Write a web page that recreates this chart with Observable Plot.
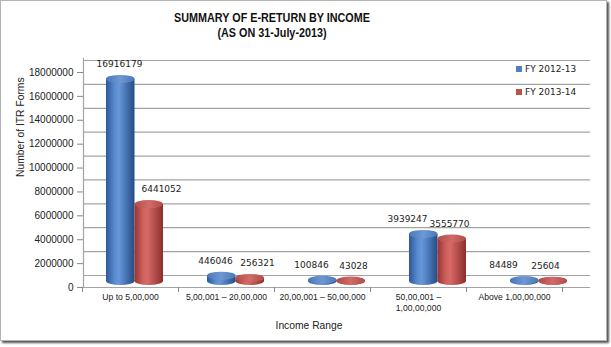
<!DOCTYPE html>
<html>
<head>
<meta charset="utf-8">
<script src="https://cdn.jsdelivr.net/npm/d3@7"></script>
<script src="https://cdn.jsdelivr.net/npm/@observablehq/plot@0.6"></script>
<style>
  html, body { margin: 0; padding: 0; background: #fff; }
  #wrap { position: relative; width: 611px; height: 347px; overflow: hidden; background: #fff; }
  #border { position: absolute; left: 0; top: 0; width: 605px; height: 339px; border: 1px solid #b4b4b4; box-shadow: 2px 2px 2px #555; }
  #title { position: absolute; left: 0; top: 10px; width: 544px; text-align: center; font-family: "Liberation Sans", Arial, sans-serif; font-weight: bold; font-size: 13px; line-height: 15px; color: #111; transform: scaleX(0.83); transform-origin: 272px 0; }
  .layer { position: absolute; left: 0; top: 50px; }
  .leg { position: absolute; font-family: "DejaVu Sans", sans-serif; font-size: 9px; color: #222; line-height: 10px; }
  .leg span { display: inline-block; width: 6px; height: 6px; margin-right: 3px; vertical-align: 0px; }
</style>
</head>
<body>
<svg width="0" height="0" style="position:absolute">
  <defs>
    <linearGradient id="gBlue" x1="0" x2="1" y1="0" y2="0">
      <stop offset="0" stop-color="#2c5896"/>
      <stop offset="0.3" stop-color="#5a8bd0"/>
      <stop offset="0.45" stop-color="#6797da"/>
      <stop offset="1" stop-color="#254c86"/>
    </linearGradient>
    <linearGradient id="gBlueCap" x1="0" x2="1" y1="0" y2="0">
      <stop offset="0" stop-color="#4a78b8"/>
      <stop offset="0.5" stop-color="#6f98d3"/>
      <stop offset="1" stop-color="#4a78b8"/>
    </linearGradient>
    <linearGradient id="gRed" x1="0" x2="1" y1="0" y2="0">
      <stop offset="0" stop-color="#963532"/>
      <stop offset="0.3" stop-color="#d0605d"/>
      <stop offset="0.45" stop-color="#d76966"/>
      <stop offset="1" stop-color="#8b2f2c"/>
    </linearGradient>
    <linearGradient id="gRedCap" x1="0" x2="1" y1="0" y2="0">
      <stop offset="0" stop-color="#b44c49"/>
      <stop offset="0.5" stop-color="#cf6b68"/>
      <stop offset="1" stop-color="#b44c49"/>
    </linearGradient>
  </defs>
</svg>
<div id="wrap">
  <div id="border"></div>
  <div id="title">SUMMARY OF E-RETURN BY INCOME<br>(AS ON 31-July-2013)</div>
  <div id="axes" class="layer"></div>
  <div id="bars" class="layer"></div>
  <div id="labels" class="layer"></div>
  <div class="leg" style="left:516px; top:64px;"><span style="background:#4f81bd"></span>FY 2012-13</div>
  <div class="leg" style="left:516px; top:87px;"><span style="background:#c0504d"></span>FY 2013-14</div>
</div>
<script>
const categories = ["Up to 5,00,000", "5,00,001 – 20,00,000", "20,00,001 – 50,00,000", "50,00,001 –\n1,00,00,000", "Above 1,00,00,000"];
const fy1213 = [16916179, 446046, 100846, 3939247, 84489];
const fy1314 = [6441052, 256321, 43028, 3555770, 25604];
const yTicks = [0, 2000000, 4000000, 6000000, 8000000, 10000000, 12000000, 14000000, 16000000, 18000000];
const seriesNames = ["FY 2012-13", "FY 2013-14"];
const yTitle = "Number of ITR Forms";
const xTitle = "Income Range";

const s1 = categories.map((c, i) => ({cat: c, v: fy1213[i], s: seriesNames[0]}));
const s2 = categories.map((c, i) => ({cat: c, v: fy1314[i], s: seriesNames[1]}));

const W = 611, H = 297;
const yScale = {domain: [0, 18000000], range: [237, 22]};
const font = {fontFamily: "'Liberation Sans', Arial, sans-serif", fontSize: "10px", color: "#222", background: "transparent", overflow: "visible"};
const gridColor = "#a3a3a3";
const frontX = {type: "band", domain: categories, range: [82, 562], padding: 0};

const axes = Plot.plot({
  width: W, height: H,
  marginLeft: 83, marginRight: 21, marginTop: 8, marginBottom: 60,
  x: frontX,
  y: yScale,
  style: font,
  marks: [
    Plot.ruleY(yTicks, {dy: -12, stroke: gridColor, strokeWidth: 1.2}),
    Plot.ruleY([0], {stroke: gridColor, strokeWidth: 1.2}),
    Plot.frame({anchor: "left", stroke: gridColor, strokeWidth: 1.2}),
    Plot.axisY(yTicks, {tickSize: 6, tickPadding: 4, tickFormat: d3.format("d"), stroke: "#888", fontSize: 10, label: null}),
    Plot.axisX({tickSize: 0, tickPadding: 5, fontSize: 8.6, label: null, lineHeight: 1.25}),
    Plot.ruleX(categories, {x: d => d, dx: -48, y1: () => 0, y2: () => 0, insetBottom: -5, stroke: "#888"}),
    Plot.ruleX([categories[categories.length - 1]], {x: d => d, dx: 48, y1: () => 0, y2: () => 0, insetBottom: -5, stroke: "#888"}),
    Plot.text([yTitle], {frameAnchor: "left", rotate: -90, dx: -63, dy: 4, fontSize: 10.3, fill: "#222"}),
    Plot.text([xTitle], {frameAnchor: "bottom", dx: -28, dy: 41, fontSize: 10.3, fill: "#222"})
  ]
});
document.getElementById("axes").appendChild(axes);

const barOpts = (fill, left, right) => ({x: "cat", insetLeft: left, insetRight: right, dy: -6, fill});
const bars = Plot.plot({
  width: W, height: H,
  marginLeft: 84, marginRight: 22, marginTop: 8, marginBottom: 60,
  x: {type: "band", domain: categories, range: [84, 589], padding: 0, axis: null},
  y: {...yScale, axis: null},
  style: font,
  marks: [
    Plot.barY(s1, {...barOpts("url(#gBlue)", 22, 50.5), y1: () => 0, y2: () => 0, insetTop: -4, insetBottom: -4, rx: 14, ry: 4}),
    Plot.barY(s1, {...barOpts("url(#gBlue)", 22, 50.5), y1: () => 0, y2: "v"}),
    Plot.barY(s1, {...barOpts("url(#gBlueCap)", 22, 50.5), y1: "v", y2: "v", insetTop: -4, insetBottom: -4, rx: 14, ry: 4}),
    Plot.barY(s2, {...barOpts("url(#gRed)", 50.5, 22), y1: () => 0, y2: () => 0, insetTop: -4, insetBottom: -4, rx: 14, ry: 4}),
    Plot.barY(s2, {...barOpts("url(#gRed)", 50.5, 22), y1: () => 0, y2: "v"}),
    Plot.barY(s2, {...barOpts("url(#gRedCap)", 50.5, 22), y1: "v", y2: "v", insetTop: -4, insetBottom: -4, rx: 14, ry: 4})
  ]
});
document.getElementById("bars").appendChild(bars);

const labels = Plot.plot({
  width: W, height: H,
  marginLeft: 83, marginRight: 21, marginTop: 8, marginBottom: 60,
  x: {...frontX, axis: null},
  y: {...yScale, axis: null},
  style: font,
  marks: [
    Plot.text(s1, {x: "cat", y: "v", text: d => String(d.v), dx: -11, dy: -21, fontSize: 9, fontFamily: "'DejaVu Sans', sans-serif", fill: "#222"}),
    Plot.text(s2, {x: "cat", y: "v", text: d => String(d.v), dx: 31, dy: -21, fontSize: 9, fontFamily: "'DejaVu Sans', sans-serif", fill: "#222"})
  ]
});
document.getElementById("labels").appendChild(labels);
</script>
</body>
</html>
